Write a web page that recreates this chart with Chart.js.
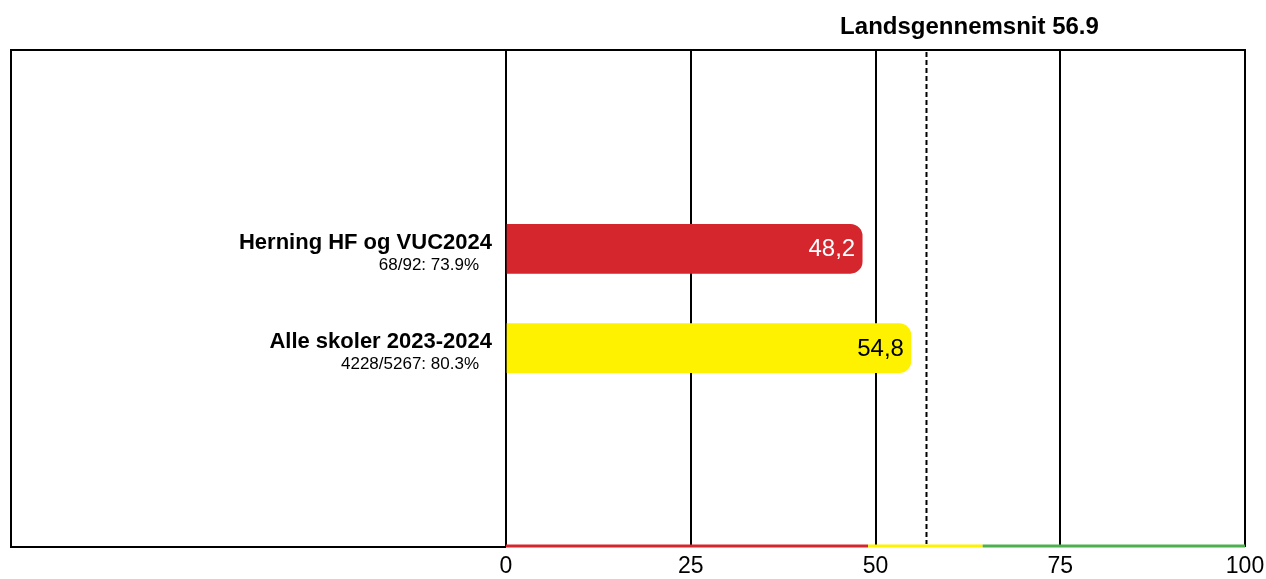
<!DOCTYPE html>
<html>
<head>
<meta charset="utf-8">
<script src="https://cdn.jsdelivr.net/npm/chart.js@4"></script>
<style>
  html, body { margin: 0; padding: 0; background: #fff; }
  #wrap { width: 1266px; height: 579px; position: relative; }
</style>
</head>
<body>
<div id="wrap"><canvas id="chart"></canvas></div>
<script>
// Data
var CATEGORIES = ['Herning HF og VUC2024', 'Alle skoler 2023-2024'];
var SUB_LABELS = ['68/92: 73.9%', '4228/5267: 80.3%'];
var VALUES     = [48.2, 54.8];
var BAR_COLORS = ['#d5262e', '#fff200'];
var TEXT_COLORS = ['#ffffff', '#000000'];
var X_TICKS    = [0, 25, 50, 75, 100];
var AVERAGE    = 56.9;
var AVG_LABEL  = 'Landsgennemsnit 56.9';
// colour band along the bottom of the value axis
var BAND_STOPS  = [0, 49, 64.5, 100];
var BAND_COLORS = ['#d5262e', '#fff200', '#4caf50'];

var FONT = '"Liberation Sans", Arial, Helvetica, sans-serif';

// two empty slots above and below so the bars sit in the middle rows
var labels = ['', ''].concat(CATEGORIES).concat(['', '']);
var data = [null, null].concat(VALUES).concat([null, null]);
var colors = ['#000', '#000'].concat(BAR_COLORS).concat(['#000', '#000']);

var decor = {
  id: 'decor',
  afterDatasetsDraw: function (chart) {
    var ctx = chart.ctx;
    var a = chart.chartArea;
    var xs = chart.scales.x, ys = chart.scales.y;
    var meta = chart.getDatasetMeta(0);
    ctx.save();

    // values inside bars
    ctx.font = '24px ' + FONT;
    ctx.textAlign = 'right';
    ctx.textBaseline = 'middle';
    for (var i = 0; i < VALUES.length; i++) {
      var bar = meta.data[i + 2];
      ctx.fillStyle = TEXT_COLORS[i];
      ctx.fillText(VALUES[i].toFixed(1).replace('.', ','), bar.x - 7, bar.y + 1);
    }

    // category labels
    ctx.fillStyle = '#000';
    for (var j = 0; j < CATEGORIES.length; j++) {
      var y = ys.getPixelForValue(j + 2);
      ctx.font = 'bold 22px ' + FONT;
      ctx.textBaseline = 'alphabetic';
      ctx.fillText(CATEGORIES[j], a.left - 14, y);
      ctx.font = '17px ' + FONT;
      ctx.fillText(SUB_LABELS[j], a.left - 27, y + 21);
    }

    // dashed average line
    var ax = xs.getPixelForValue(AVERAGE);
    ctx.strokeStyle = '#000';
    ctx.lineWidth = 2;
    ctx.setLineDash([5, 3]);
    ctx.beginPath();
    ctx.moveTo(ax, a.top + 2);
    ctx.lineTo(ax, a.bottom - 3);
    ctx.stroke();
    ctx.setLineDash([]);

    ctx.font = 'bold 24px ' + FONT;
    ctx.textAlign = 'center';
    ctx.fillText(AVG_LABEL, ax + 43, 34);

    // outer frame
    ctx.lineWidth = 2;
    ctx.beginPath();
    ctx.moveTo(a.left, a.bottom);
    ctx.lineTo(11, a.bottom);
    ctx.lineTo(11, a.top);
    ctx.lineTo(a.right, a.top);
    ctx.lineTo(a.right, a.bottom);
    ctx.stroke();

    // colour band
    ctx.lineWidth = 3;
    for (var k = 0; k < BAND_COLORS.length; k++) {
      ctx.strokeStyle = BAND_COLORS[k];
      ctx.beginPath();
      ctx.moveTo(xs.getPixelForValue(BAND_STOPS[k]), a.bottom - 1);
      ctx.lineTo(xs.getPixelForValue(BAND_STOPS[k + 1]), a.bottom - 1);
      ctx.stroke();
    }
    ctx.restore();
  }
};

new Chart(document.getElementById('chart'), {
  type: 'bar',
  data: {
    labels: labels,
    datasets: [{
      data: data,
      backgroundColor: colors,
      barThickness: 49,
      borderRadius: { topRight: 12, bottomRight: 12 },
      borderSkipped: 'start'
    }]
  },
  options: {
    indexAxis: 'y',
    responsive: true,
    maintainAspectRatio: false,
    animation: false,
    layout: { padding: { left: 11, right: 21, top: 50, bottom: 0 } },
    plugins: { legend: { display: false }, tooltip: { enabled: false } },
    scales: {
      x: {
        min: 0, max: 100,
        afterBuildTicks: function (s) { s.ticks = X_TICKS.map(function (v) { return { value: v }; }); },
        afterFit: function (s) { s.height = 32; s.paddingLeft = 0; s.paddingRight = 0; },
        grid: { color: '#000', lineWidth: 2, drawTicks: false },
        border: { display: false },
        ticks: { color: '#000', font: { family: FONT, size: 23 }, padding: 6, maxRotation: 0 }
      },
      y: {
        offset: false,
        afterFit: function (s) { s.width = 495; },
        grid: { display: false },
        border: { display: false },
        ticks: { display: false }
      }
    }
  },
  plugins: [decor]
});
</script>
</body>
</html>
